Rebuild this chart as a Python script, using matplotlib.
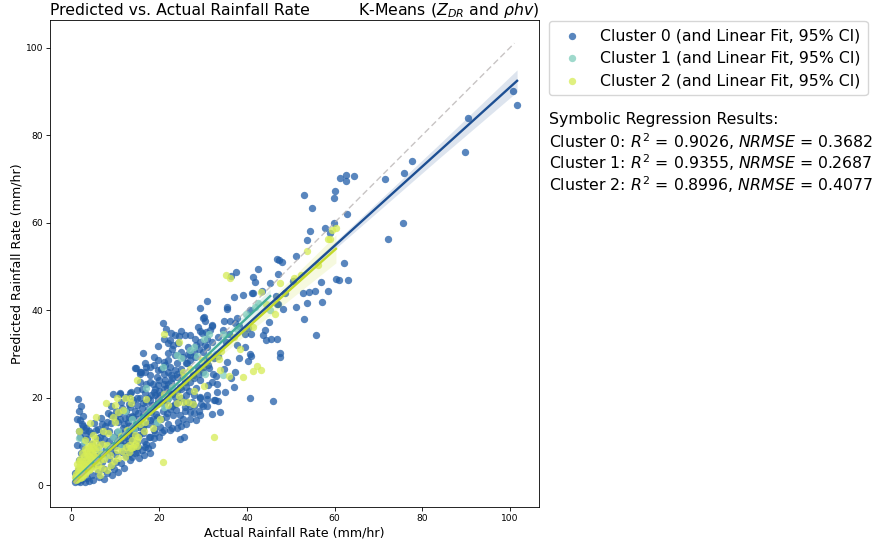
import numpy as np
import matplotlib
matplotlib.use("Agg")
import matplotlib.pyplot as plt

# (actual, predicted)
cluster0 = [
    (100.7, 90.0), (101.6, 86.9), (90.4, 83.9), (89.7, 76.1), (77.7, 74.0), (75.8, 71.3), (71.5, 70.0), (75.6, 60.0), (72.2, 56.2),
    (64.5, 70.6), (62.7, 70.9), (62.7, 69.5), (61.2, 70.1), (60.1, 67.2), (59.8, 65.6), (62.8, 62.0), (59.8, 60.0),
    (53.1, 66.4), (54.8, 63.4), (57.7, 58.7), (54.4, 58.0), (53.8, 56.0), (59.0, 57.6), (51.3, 52.3), (47.4, 51.5), (47.9, 50.9),
    (46.9, 51.7), (62.2, 50.8), (61.1, 46.9), (63.0, 46.8), (60.2, 47.2), (58.4, 44.3), (55.5, 44.3), (54.2, 44.2), (52.8, 44.0),
    (56.8, 46.4), (50.5, 46.7), (53.8, 41.7), (51.1, 40.7), (57.2, 41.8), (46.7, 43.2), (48.6, 44.0), (47.0, 41.4), (48.2, 40.3),
    (45.0, 37.3), (44.1, 35.4), (43.7, 34.4), (46.8, 33.5), (45.6, 33.4), (40.3, 35.8), (39.6, 34.5), (41.0, 34.6),
    (53.1, 38.0), (55.8, 34.4), (46.0, 19.2), (40.7, 20.0), (35.0, 21.2), (47.5, 29.3), (47.6, 30.3), (37.3, 25.8), (40.2, 28.3),
    (40.6, 30.0), (44.4, 33.1), (42.5, 49.4), (37.4, 48.6), (36.4, 47.8), (41.5, 47.6), (41.8, 46.5), (47.1, 48.2), (45.2, 46.3),
    (43.5, 44.3), (41.1, 43.9), (41.5, 43.9), (39.2, 43.4), (37.1, 43.0), (30.8, 42.0), (29.3, 40.5), (35.5, 40.8), (35.5, 40.2),
    (30.3, 38.5), (30.4, 37.5), (34.8, 37.4), (36.1, 37.6), (37.7, 38.2), (40.8, 40.0), (46.9, 41.4), (32.0, 36.3), (34.6, 35.4),
    (31.6, 35.4), (38.3, 36.3), (36.0, 34.6), (37.3, 37.0), (33.5, 33.8), (35.2, 32.6), (37.8, 32.0), (39.6, 31.5), (41.0, 29.4),
    (38.3, 29.0), (35.5, 28.2), (33.3, 29.6), (34.7, 26.5), (36.3, 24.4), (37.0, 22.4), (33.0, 25.0), (31.4, 26.8),
    (20.9, 37.0), (21.5, 35.7), (22.8, 34.8), (24.9, 35.3), (25.9, 34.3), (24.6, 34.1), (28.8, 36.2), (29.3, 35.3), (30.1, 38.3),
    (30.7, 35.0), (32.0, 36.6), (19.7, 31.9), (21.0, 33.5), (22.5, 33.1), (23.6, 34.3), (22.1, 32.4), (23.2, 32.0), (24.4, 32.4),
    (27.0, 34.3), (28.2, 33.5), (29.7, 34.7), (29.3, 32.8), (30.8, 33.5), (30.4, 32.0), (32.0, 32.8), (28.4, 32.0), (26.6, 31.6),
    (16.4, 30.2), (14.5, 26.7), (18.8, 29.2), (19.8, 28.6), (21.0, 28.2), (22.1, 30.1), (23.6, 29.7), (25.5, 29.3), (27.0, 29.7),
    (28.2, 29.3), (16.8, 27.8), (15.6, 25.9), (17.9, 27.0), (18.7, 27.4), (19.8, 26.3), (21.0, 25.5), (22.1, 25.9), (22.8, 25.1),
    (23.6, 26.3), (22.5, 27.0), (21.3, 27.4), (24.0, 24.8), (25.1, 25.1), (25.9, 23.6), (22.8, 23.6), (21.3, 24.0), (19.4, 24.8),
    (17.9, 25.1), (16.8, 25.9), (17.9, 23.6), (19.8, 22.9), (21.7, 22.1), (18.7, 21.3), (15.6, 23.6), (13.3, 21.0), (14.9, 21.7),
    (16.8, 21.0), (11.0, 21.0), (14.1, 19.4), (15.6, 19.8), (17.5, 19.8), (20.2, 20.6), (22.5, 21.0), (23.6, 20.2), (21.7, 19.4),
    (19.8, 19.0), (18.3, 18.3), (16.4, 18.7), (14.9, 18.3), (13.3, 17.9), (29.3, 24.0), (31.2, 22.9), (32.0, 23.6), (33.1, 23.2),
    (30.8, 20.6), (32.7, 19.4), (29.3, 19.8), (28.5, 22.1), (27.4, 19.0), (25.9, 17.9), (24.4, 19.0), (27.8, 25.1), (30.1, 25.9),
    (31.2, 27.4), (32.3, 25.5), (26.4, 27.8), (28.8, 27.0), (24.8, 22.4), (26.7, 21.6), (23.0, 18.0), (20.9, 17.0), (19.2, 16.2),
    (33.1, 21.3), (30.8, 19.6), (29.3, 20.2), (32.6, 19.4), (33.3, 19.3), (29.5, 18.6), (32.1, 16.3), (33.9, 16.8), (29.2, 16.0),
    (28.3, 14.8), (25.5, 15.2), (24.2, 14.5), (24.7, 16.0), (23.8, 17.1), (25.9, 17.0), (27.0, 16.7), (22.5, 12.5), (21.7, 16.4),
    (23.2, 16.0), (20.6, 12.2), (24.7, 10.6), (25.7, 10.9), (18.7, 10.7), (18.3, 9.1), (18.0, 7.4), (16.5, 6.9), (15.4, 6.2),
    (13.7, 6.5), (15.2, 8.6), (16.8, 8.7), (18.7, 12.6), (20.2, 13.3), (21.0, 12.6), (17.9, 14.8), (16.4, 11.8), (19.0, 14.1),
    (1.4, 19.6), (2.2, 18.0), (1.6, 17.0), (2.6, 15.8), (9.5, 20.8), (11.1, 20.9), (13.5, 21.2), (14.6, 26.7), (15.9, 25.9), (15.6, 25.3),
    (17.1, 27.0), (1.2, 9.1), (1.3, 15.2), (1.9, 14.9), (2.3, 14.0), (2.7, 13.5), (1.6, 12.4), (3.4, 13.0), (4.0, 12.4), (3.0, 11.4),
    (5.0, 1.1), (7.3, 1.5), (9.2, 2.3), (10.7, 3.0), (13.3, 5.7), (12.0, 4.0), (11.2, 5.1), (9.8, 3.6), (8.2, 2.7), (6.2, 1.9), (4.0, 0.9),
    (3.0, 0.7), (2.0, 0.6), (1.5, 0.9), (1.0, 1.6), (0.8, 0.7), (2.5, 1.4), (3.6, 1.7), (4.7, 2.3), (6.0, 3.1), (7.5, 3.6), (8.9, 4.3),
    (10.2, 5.2), (12.4, 6.7), (14.4, 7.4), (13.0, 8.0), (11.5, 7.5), (10.0, 7.2), (8.5, 6.0), (7.0, 5.2), (14.9, 9.6), (16.6, 10.0), (17.6, 11.0),
    (15.5, 11.5), (13.8, 10.8), (12.3, 9.6), (11.0, 9.3), (9.3, 9.0), (7.8, 8.3), (6.4, 7.2), (5.5, 6.6), (4.6, 9.4), (5.8, 10.8), (7.2, 11.8),
    (8.6, 12.4), (10.3, 12.1), (11.8, 13.0), (13.2, 13.5), (14.6, 14.2), (15.9, 14.7), (16.8, 16.0), (15.2, 16.4), (13.7, 15.8), (12.2, 15.3),
    (10.6, 14.4), (9.1, 14.3), (7.6, 13.5), (6.1, 12.8), (8.4, 16.5), (10.1, 16.9), (11.6, 17.6), (13.0, 18.6), (14.5, 16.9), (16.0, 17.6),
    (17.2, 16.8), (18.2, 16.6), (19.8, 20.0), (18.2, 20.6), (12.5, 20.2), (9.0, 18.0), (11.2, 19.0), (12.0, 10.9), (14.0, 12.4), (16.2, 13.0),
    (6.8, 15.3), (5.2, 14.2), (3.9, 8.0), (2.2, 7.4), (1.8, 5.8), (3.0, 5.0), (4.5, 4.4), (5.6, 4.9), (1.5, 3.4), (0.9, 2.7),
    (4.5, 7.0), (5.5, 8.5), (6.5, 9.5), (7.5, 10.5), (8.5, 10.0), (9.5, 11.0), (10.5, 10.5), (11.5, 11.8), (12.5, 11.2), (13.5, 12.0),
    (14.5, 13.0), (15.5, 13.3), (16.5, 14.0), (17.5, 14.0), (18.5, 15.0), (19.5, 15.5), (20.5, 15.0), (21.5, 15.6), (22.5, 17.5), (23.5, 18.5),
    (12.8, 14.5), (14.0, 15.5), (15.0, 15.0), (16.2, 16.0), (17.5, 17.5), (18.5, 18.0), (19.5, 18.5), (20.5, 19.0), (21.0, 18.5), (22.0, 20.0),
    (23.0, 20.8), (24.0, 21.5), (25.0, 22.0), (26.0, 22.5), (27.0, 23.5), (28.0, 24.5), (29.0, 25.5), (30.0, 27.0), (31.0, 28.5), (32.5, 29.0),
    (17.0, 19.0), (18.0, 19.5), (19.0, 20.5), (20.0, 21.5), (21.0, 22.0), (22.0, 23.0), (23.0, 24.5), (24.0, 25.5), (25.0, 26.5), (26.0, 28.0),
    (27.0, 28.5), (28.0, 30.5), (29.0, 31.0), (30.0, 30.5), (31.0, 31.5), (15.0, 20.0), (16.0, 22.0), (17.0, 23.0), (18.5, 23.0), (20.0, 24.0),
    (21.0, 23.0), (19.0, 22.0), (20.5, 26.5), (22.0, 28.5), (24.0, 28.0), (25.0, 30.5), (26.5, 30.0), (23.0, 31.0), (13.0, 15.5), (18.0, 11.0),
    (19.0, 12.0), (20.0, 11.0), (22.0, 14.0), (23.0, 13.0), (24.0, 13.0), (25.0, 13.5), (26.0, 14.0), (27.0, 15.0), (28.0, 16.5), (29.0, 17.0),
    (30.0, 18.0), (31.0, 18.0), (28.0, 18.0), (27.0, 18.0), (26.0, 19.0), (25.0, 20.0), (26.0, 20.5), (28.0, 20.5), (13.0, 7.0), (14.0, 8.5),
    (15.0, 7.5), (16.0, 8.0), (17.0, 9.5), (17.5, 8.5), (12.0, 9.0), (13.0, 10.0), (14.0, 11.5), (11.0, 10.0), (10.0, 9.0), (9.0, 7.5),
    (8.0, 7.0), (7.0, 7.0), (6.0, 6.0), (5.0, 5.0), (4.0, 5.5), (3.0, 6.0), (2.5, 9.0), (3.5, 10.5), (2.0, 11.0), (3.0, 12.5), (4.5, 12.0),
    (5.5, 12.5), (6.5, 11.0), (7.0, 14.0), (8.0, 14.5), (9.0, 16.0), (10.0, 15.5), (11.0, 15.0), (12.0, 14.0), (11.0, 16.5), (12.5, 17.0),
]

cluster1 = [
    (45.2, 40.0), (42.5, 41.6), (41.8, 40.6), (39.8, 39.2), (37.8, 35.7), (34.5, 34.6), (31.3, 34.6), (30.2, 33.4), (27.9, 31.6),
    (27.0, 30.8), (28.7, 29.5), (25.0, 29.0), (24.0, 29.8), (20.9, 27.0), (30.5, 25.4), (34.6, 25.2), (33.0, 30.0), (22.0, 19.8), (17.0, 22.1),
    (12.2, 17.0), (19.4, 14.5), (21.0, 17.9), (13.7, 15.2), (16.0, 15.2), (10.5, 12.4), (9.4, 11.0), (11.2, 8.8), (8.2, 9.0), (4.0, 6.4),
    (3.4, 4.9), (2.8, 9.9), (1.8, 10.7), (2.4, 3.2), (1.6, 2.2), (6.2, 8.0), (5.2, 5.8), (7.8, 6.6), (14.2, 12.8), (18.0, 17.5), (23.0, 22.5),
]

cluster2 = [
    (60.2, 58.8), (59.4, 58.2), (58.4, 56.2), (59.0, 56.3), (53.8, 53.6), (56.3, 50.4), (50.7, 47.4), (52.3, 48.0), (47.5, 46.3), (43.2, 44.1),
    (35.2, 48.0), (36.2, 47.4), (33.8, 26.3), (42.3, 27.2), (43.3, 26.4), (41.4, 26.0), (39.2, 24.7), (32.5, 10.9), (20.9, 5.2), (36.0, 25.0),
    (46.3, 39.0), (44.4, 41.3), (41.3, 36.2), (38.4, 31.0), (37.0, 33.8), (34.0, 30.6), (33.7, 28.8), (31.5, 29.5), (29.8, 28.6), (27.0, 26.6),
    (25.4, 25.8), (25.6, 24.8), (30.2, 22.6), (27.9, 21.6), (21.2, 34.5), (24.5, 32.7), (14.9, 24.1), (21.0, 20.8),
    (16.9, 19.6), (24.6, 20.3), (25.5, 19.0), (26.6, 19.0), (27.6, 18.5), (24.0, 18.7), (21.9, 18.3), (20.2, 15.2), (18.5, 13.1), (16.8, 14.5),
    (15.6, 14.0), (16.5, 12.3), (14.9, 10.3), (14.1, 8.7), (15.2, 11.0), (13.0, 9.2), (13.8, 10.4), (14.5, 9.4), (12.4, 8.6),
    (11.6, 7.8), (10.3, 8.0), (8.8, 6.9), (12.2, 6.5), (6.9, 9.5), (8.0, 9.2), (6.5, 2.3), (9.5, 15.6), (9.9, 14.5), (5.5, 15.6), (4.2, 14.1),
    (1.6, 12.4), (3.1, 10.3), (7.9, 18.7), (9.9, 18.3), (11.8, 17.1), (10.5, 16.8), (10.3, 19.8), (12.2, 19.8), (13.3, 19.8), (13.6, 18.7),
    (0.8, 1.9), (1.0, 2.6), (1.3, 1.5), (1.5, 3.2), (1.8, 2.3), (2.0, 4.0), (2.3, 1.9), (2.5, 3.2), (2.7, 4.9), (3.0, 2.6), (3.2, 3.8),
    (3.4, 5.6), (3.6, 7.0), (3.9, 3.4), (4.2, 4.6), (4.4, 6.2), (4.7, 7.6), (5.0, 5.2), (5.3, 8.0), (5.6, 6.4), (5.8, 3.6), (6.1, 4.7),
    (6.4, 5.8), (6.7, 7.2), (2.0, 6.0), (2.4, 7.4), (3.0, 8.2), (3.8, 9.0), (4.6, 9.6), (1.2, 4.8), (1.6, 5.4), (7.0, 4.0), (7.5, 6.0),
    (8.0, 3.4), (9.0, 4.6), (9.6, 5.4), (10.6, 6.1), (5.4, 10.8), (4.8, 11.5), (7.1, 12.3), (8.3, 12.0), (11.3, 11.2), (12.6, 12.5),
    (1.1, 1.2), (1.4, 2.0), (1.9, 1.6), (2.2, 2.7), (2.6, 2.2), (2.9, 3.6), (3.3, 3.0), (3.1, 4.4), (3.7, 4.2), (4.0, 5.0), (4.3, 3.6), (4.8, 4.4),
    (4.1, 6.6), (3.5, 6.2), (2.9, 6.6), (2.3, 5.4), (1.9, 4.8), (1.4, 4.0), (5.1, 6.6), (5.5, 5.4), (4.9, 8.4), (4.2, 7.8), (3.4, 7.9), (3.9, 8.5),
    (14.5, 11.5), (15.0, 9.0), (13.0, 7.5), (13.5, 8.5), (6.0, 8.6), (5.7, 9.6), (4.4, 9.0),
]

# fitted lines and the half width of their bands
fit0_x = [0.6, 101.6]
fit0_y = [0.9, 92.4]
band0_x = [0.6, 40.0, 60.0, 84.0, 101.6]
band0_half = [0.45, 0.4, 0.8, 1.6, 2.5]

fit1_x = [0.7, 45.3]
fit1_y = [1.2, 43.2]
band1_x = [0.7, 22.0, 45.3]
band1_half = [0.4, 0.4, 1.6]

fit2_x = [0.7, 60.3]
fit2_y = [0.8, 54.0]
band2_x = [0.7, 20.0, 40.0, 60.3]
band2_half = [0.4, 0.4, 1.3, 3.2]

identity = [0.5, 101.0]

legend_labels = ["Cluster 0 (and Linear Fit, 95% CI)",
                 "Cluster 1 (and Linear Fit, 95% CI)",
                 "Cluster 2 (and Linear Fit, 95% CI)"]
results = ["Symbolic Regression Results:",
           r"Cluster 0: $R^2$ = 0.9026, $NRMSE$ = 0.3682",
           r"Cluster 1: $R^2$ = 0.9355, $NRMSE$ = 0.2687",
           r"Cluster 2: $R^2$ = 0.8996, $NRMSE$ = 0.4077"]

colors = ["#225ea8", "#7fcdbb", "#d6ec55"]
line_colors = ["#1d4f93", "#45ad9b", "#c3d92c"]

W, H = 873, 544
fig = plt.figure(figsize=(W / 100, H / 100), dpi=100)
ax = fig.add_axes([50 / W, 1 - 507 / H, 489 / W, 487 / H])

clusters = [cluster0, cluster1, cluster2]
fits = [(fit0_x, fit0_y, band0_x, band0_half),
        (fit1_x, fit1_y, band1_x, band1_half),
        (fit2_x, fit2_y, band2_x, band2_half)]

handles = []
for pts, col, label in zip(clusters, colors, legend_labels):
    pts = np.array(pts)
    h = ax.scatter(pts[:, 0], pts[:, 1], s=28, color=col, alpha=0.75, linewidths=0, zorder=1, label=label)
    handles.append(h)

for (fx, fy, bx, bh), col in zip(fits, line_colors):
    xs = np.array(bx, dtype=float)
    ys = np.interp(xs, fx, fy)
    ax.fill_between(xs, ys - np.array(bh), ys + np.array(bh), color=col, alpha=0.15, linewidth=0, zorder=1)
    ax.plot(fx, fy, color=col, lw=1.7, zorder=2)

ax.plot(identity, identity, color="#b5b0b0", lw=1.0, ls=(0, (4.5, 2.5)), alpha=0.75, zorder=2)

ax.set_xlim(-4.9, 106.6)
ax.set_ylim(-5.0, 106.3)
ax.set_xticks([0, 20, 40, 60, 80, 100])
ax.set_yticks([0, 20, 40, 60, 80, 100])
ax.tick_params(labelsize=6.6, length=2.6, width=0.6, pad=2.4)
for s in ax.spines.values():
    s.set_linewidth(0.6)
ax.set_xlabel("Actual Rainfall Rate (mm/hr)", fontsize=9.1, labelpad=2.2)
ax.set_ylabel("Predicted Rainfall Rate (mm/hr)", fontsize=9.1, labelpad=1.5)
ax.set_title("Predicted vs. Actual Rainfall Rate", loc="left", fontsize=11.3, pad=2)
ax.set_title(r"K-Means ($Z_{DR}$ and $\rho hv$)", loc="right", fontsize=11.3, pad=2)

fig.legend(handles=handles, loc="upper left", bbox_to_anchor=(549 / W, 1 - 21 / H), fontsize=11.3, markerscale=1.0,
           borderaxespad=0, labelspacing=0.48, handletextpad=0.8, borderpad=0.45)
for i, t in enumerate(results):
    fig.text(549 / W, 1 - (119.5 + i * 21.7) / H, t, fontsize=11.3, va="center", ha="left")

fig.savefig("out.png", dpi=100)
